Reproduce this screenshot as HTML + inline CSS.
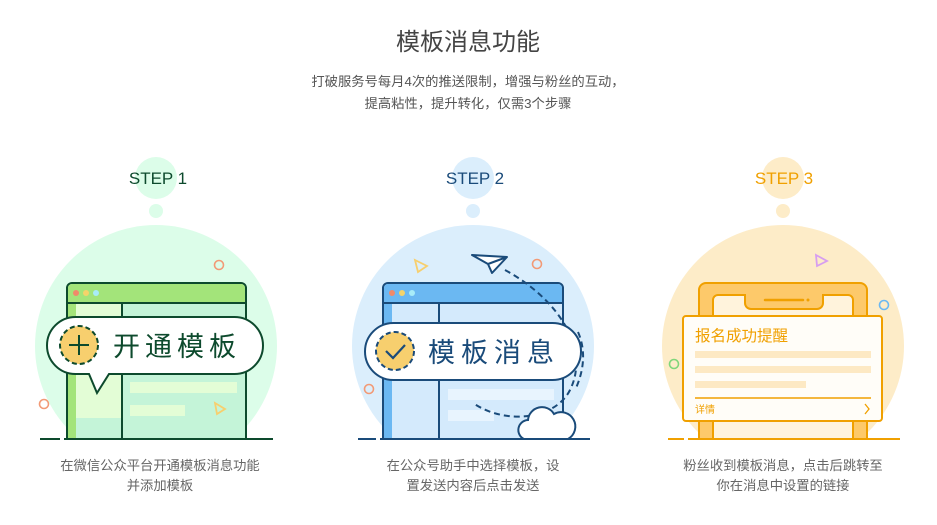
<!DOCTYPE html>
<html><head><meta charset="utf-8"><style>
html,body{margin:0;padding:0;background:#fff;}
svg{display:block;font-family:"Liberation Sans","Noto Sans CJK SC",sans-serif;}
</style></head><body>
<svg width="937" height="525" viewBox="0 0 937 525" xmlns="http://www.w3.org/2000/svg">
<text x="468" y="50" text-anchor="middle" font-size="24" fill="#444">模板消息功能</text>
<text x="468" y="86" text-anchor="middle" font-size="13.3" fill="#555">打破服务号每月4次的推送限制，增强与粉丝的互动，</text>
<text x="468" y="108" text-anchor="middle" font-size="13.3" fill="#555">提高粘性，提升转化，仅需3个步骤</text>

<defs><clipPath id="c"><rect x="0" y="0" width="937" height="439"/></clipPath></defs>
<g clip-path="url(#c)">
<circle cx="156" cy="346" r="121" fill="#dcfde9"/>
<circle cx="473" cy="346" r="121" fill="#dbeefc"/>
<circle cx="783" cy="346" r="121" fill="#fdecc8"/>
</g>
<circle cx="156" cy="178" r="21" fill="#dcfde9"/>
<circle cx="156" cy="211" r="7" fill="#dcfde9"/>
<text x="158" y="184" text-anchor="middle" font-size="17" fill="#0d4a2d">STEP 1</text>
<circle cx="473" cy="178" r="21" fill="#dbeefc"/>
<circle cx="473" cy="211" r="7" fill="#dbeefc"/>
<text x="475" y="184" text-anchor="middle" font-size="17" fill="#1a4b7a">STEP 2</text>
<circle cx="783" cy="178" r="21" fill="#fdecc8"/>
<circle cx="783" cy="211" r="7" fill="#fdecc8"/>
<text x="784" y="184" text-anchor="middle" font-size="17" fill="#f0a000">STEP 3</text>

<!-- window 1 -->
<path d="M67,439 V288 a5,5 0 0 1 5,-5 H241 a5,5 0 0 1 5,5 V439" fill="#c4f4d8" stroke="#0d4a2d" stroke-width="2"/>
<path d="M68,288 a4,4 0 0 1 4,-4 H241 a4,4 0 0 1 4,4 V303 H68z" fill="#a3e47a"/>
<line x1="67" y1="303" x2="246" y2="303" stroke="#0d4a2d" stroke-width="2"/>
<rect x="68" y="304" width="54" height="114" fill="#e3fdd6"/>
<rect x="68" y="304" width="8" height="135" fill="#a3e47a"/>
<line x1="122" y1="303" x2="122" y2="439" stroke="#0d4a2d" stroke-width="2"/>
<circle cx="76" cy="293" r="3" fill="#f08a6a"/><circle cx="86" cy="293" r="3" fill="#f5d36a"/><circle cx="96" cy="293" r="3" fill="#a8ecf8"/>
<rect x="130" y="382" width="107" height="11" fill="#e3fdd6"/>
<rect x="130" y="405" width="55" height="11" fill="#e3fdd6"/>
<path d="M75.5,317 H234.5 a28.5,28.5 0 0 1 0,57 H109 L97,393 L89,374 H75.5 a28.5,28.5 0 0 1 0,-57z" fill="#fff" stroke="#0d4a2d" stroke-width="2"/>
<circle cx="79" cy="345" r="19" fill="#f7cf6e" stroke="#0d4a2d" stroke-width="2" stroke-dasharray="5,3"/>
<path d="M79,335 V355 M69,345 H89" stroke="#0d4a2d" stroke-width="2"/>
<text x="113" y="356" font-size="27" letter-spacing="5" fill="#0d4a2d">开通模板</text>
<circle cx="219" cy="265" r="4.5" fill="none" stroke="#f29a76" stroke-width="1.6"/>
<circle cx="44" cy="404" r="4.5" fill="none" stroke="#f29a76" stroke-width="1.6"/>
<path d="M215,403 L225,409 L217,414z" fill="none" stroke="#f7cf6e" stroke-width="1.8"/>
<path d="M40,439 H60 M64,439 H273" stroke="#0d4a2d" stroke-width="2"/>

<!-- window 2 -->
<path d="M383,439 V288 a5,5 0 0 1 5,-5 H558 a5,5 0 0 1 5,5 V439" fill="#d4eafc" stroke="#1a4b7a" stroke-width="2"/>
<path d="M384,288 a4,4 0 0 1 4,-4 H558 a4,4 0 0 1 4,4 V303 H384z" fill="#6bb8f2"/>
<line x1="383" y1="303" x2="563" y2="303" stroke="#1a4b7a" stroke-width="2"/>
<rect x="384" y="304" width="8" height="135" fill="#6bb8f2"/>
<line x1="439" y1="303" x2="439" y2="439" stroke="#1a4b7a" stroke-width="2"/>
<circle cx="392" cy="293" r="3" fill="#f08a6a"/><circle cx="402" cy="293" r="3" fill="#f5d36a"/><circle cx="412" cy="293" r="3" fill="#a8ecf8"/>
<rect x="448" y="389" width="106" height="11" fill="#e8f4fe"/>
<rect x="448" y="410" width="46" height="11" fill="#e8f4fe"/>
<path d="M505,270 C560,300 590,350 570,390 C555,420 505,425 473,403" fill="none" stroke="#1a4b7a" stroke-width="2" stroke-dasharray="6,4"/>
<rect x="365" y="323" width="216" height="57" rx="28.5" fill="#fff" stroke="#1a4b7a" stroke-width="2"/>
<path d="M578,332 C586,350 584,370 576,388" fill="none" stroke="#1a4b7a" stroke-width="2" stroke-dasharray="6,4"/>
<circle cx="395" cy="351" r="19" fill="#f7cf6e" stroke="#1a4b7a" stroke-width="2" stroke-dasharray="5,3"/>
<path d="M386,351 L393,358 L405,345" fill="none" stroke="#1a4b7a" stroke-width="2.2"/>
<text x="428" y="362" font-size="27" letter-spacing="6" fill="#1a4b7a">模板消息</text>
<path d="M472,255 L507,257 L492,273 L488,264z M488,264 L507,257" fill="#fff" stroke="#1a4b7a" stroke-width="2" stroke-linejoin="round"/>
<path d="M524,439 a10,10 0 0 1 4,-19 a14,14 0 0 1 26,-6 a12,12 0 0 1 14,25z" fill="#fff" stroke="#1a4b7a" stroke-width="2"/>
<circle cx="537" cy="264" r="4.5" fill="none" stroke="#f29a76" stroke-width="1.6"/>
<circle cx="369" cy="389" r="4.5" fill="none" stroke="#f29a76" stroke-width="1.6"/>
<path d="M415,260 L427,266 L418,272z" fill="none" stroke="#f7cf6e" stroke-width="1.8"/>
<path d="M358,439 H376 M380,439 H590" stroke="#1a4b7a" stroke-width="2"/>

<!-- phone 3 -->
<path d="M699,439 V290 a7,7 0 0 1 7,-7 H860 a7,7 0 0 1 7,7 V439" fill="#fdc96a" stroke="#f0a000" stroke-width="2"/>
<path d="M713,439 V300 a5,5 0 0 1 5,-5 H745 V303 a6,6 0 0 0 6,6 H817 a6,6 0 0 0 6,-6 V295 H848 a5,5 0 0 1 5,5 V439z" fill="#fff3dc" stroke="#f0a000" stroke-width="2"/>
<path d="M765,300 H803" stroke="#f0a000" stroke-width="2.5" stroke-linecap="round"/>
<circle cx="808" cy="300" r="1.5" fill="#f0a000"/>
<rect x="683" y="316" width="199" height="105" rx="3" fill="#fffdf8" stroke="#f0a000" stroke-width="2"/>
<text x="695" y="341" font-size="15.5" fill="#f0a000">报名成功提醒</text>
<rect x="695" y="351" width="176" height="7" fill="#fde9c4"/>
<rect x="695" y="366" width="176" height="7" fill="#fde9c4"/>
<rect x="695" y="381" width="111" height="7" fill="#fde9c4"/>
<line x1="695" y1="398" x2="871" y2="398" stroke="#f0a000" stroke-width="1.6"/>
<text x="695" y="413" font-size="10" fill="#f0a000">详情</text>
<path d="M865,404 L869,409 L865,414" fill="none" stroke="#f0a000" stroke-width="1.3"/>
<circle cx="884" cy="305" r="4.5" fill="none" stroke="#6bb8f2" stroke-width="1.6"/>
<circle cx="674" cy="364" r="4.5" fill="none" stroke="#7fd67a" stroke-width="1.6"/>
<path d="M816,255 L827,261 L817,266z" fill="none" stroke="#d79ef0" stroke-width="1.8"/>
<path d="M668,439 H684 M688,439 H900" stroke="#f0a000" stroke-width="2"/>

<text x="160" y="470" text-anchor="middle" font-size="13.3" fill="#666">在微信公众平台开通模板消息功能</text>
<text x="160" y="490" text-anchor="middle" font-size="13.3" fill="#666">并添加模板</text>
<text x="473" y="470" text-anchor="middle" font-size="13.3" fill="#666">在公众号助手中选择模板，设</text>
<text x="473" y="490" text-anchor="middle" font-size="13.3" fill="#666">置发送内容后点击发送</text>
<text x="783" y="470" text-anchor="middle" font-size="13.3" fill="#666">粉丝收到模板消息，点击后跳转至</text>
<text x="783" y="490" text-anchor="middle" font-size="13.3" fill="#666">你在消息中设置的链接</text>
</svg>
</body></html>
